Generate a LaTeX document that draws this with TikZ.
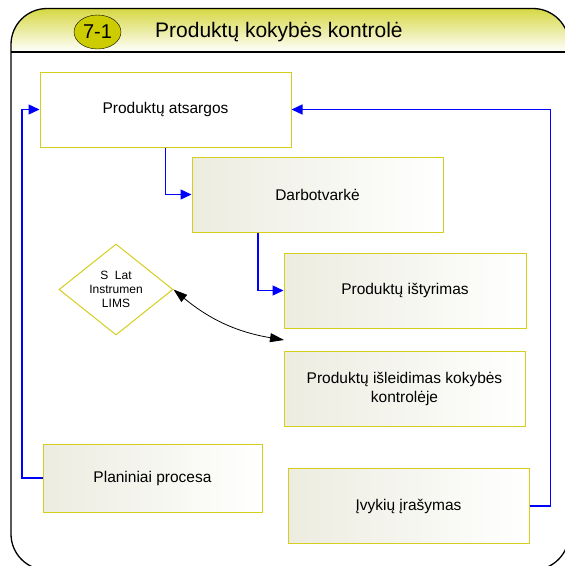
\documentclass[tikz,border=0pt]{standalone}
\usepackage{fontspec}
\setmainfont{Liberation Sans}
\usepackage{tikz}
\usetikzlibrary{shapes.geometric}
\usetikzlibrary{arrows.meta}
\usepackage{xcolor}
\definecolor{boxline}{RGB}{214,206,30}
\definecolor{boxshade}{RGB}{236,236,224}
\definecolor{headtop}{RGB}{206,208,30}
\definecolor{badge}{RGB}{204,204,0}

\begin{document}
\begin{tikzpicture}[x=1pt,y=-1pt,
whites/.style={rectangle,draw=boxline,line width=1pt,fill=white,minimum width=251pt,minimum height=75pt,font=\fontsize{15.5}{19}\selectfont},
shades/.style={rectangle,draw=boxline,line width=1pt,left color=boxshade,right color=white,minimum width=241pt,minimum height=75pt,align=center,font=\fontsize{15.5}{19}\selectfont},
diam/.style={diamond,draw=boxline,line width=1pt,fill=white,minimum width=114pt,minimum height=91pt,inner sep=0pt,align=center,font=\fontsize{12}{14}\selectfont},
flow/.style={draw=blue,line width=1.4pt,-{Triangle[length=11pt,width=10pt]}},
link/.style={draw=black,line width=0.8pt,{Triangle[length=14pt,width=9pt]}-{Triangle[length=14pt,width=9pt]}}]
\useasboundingbox (0,0) rectangle (565,566);

\begin{scope}
\clip [rounded corners=36pt] (11,8.5) rectangle (569,570);
\shade [top color=headtop,bottom color=white] (0,0) rectangle (570,52);
\end{scope}
\draw [line width=1.3pt,rounded corners=36pt] (11,8.5) rectangle (569,570);
\draw [line width=1.3pt] (11,52) -- (569,52);

\node [ellipse,draw,fill=badge,minimum width=47pt,minimum height=34pt,inner sep=0pt,font=\fontsize{20}{24}\selectfont] (badge) at (97.5,32) {7-1};
\node [anchor=base west,inner sep=0pt,font=\fontsize{21}{24}\selectfont] (title) at (155,37) {Produktų kokybės kontrolė};

\node [whites] (box-0) at (165.5,109.5) {Produktų atsargos};
\node [shades,minimum width=251pt] (box-1) at (317.5,194.5) {Darbotvarkė};
\node [shades,minimum width=242pt] (box-2) at (405,290.5) {Produktų ištyrimas};
\node [shades] (box-3) at (404.5,388.5) {Produktų išleidimas kokybės\\kontrolėje};
\node [shades,minimum width=219pt,minimum height=68pt] (box-4) at (152.5,478) {Planiniai procesa};
\node [shades] (box-5) at (408.5,506) {Įvykių įrašymas};
\node [diam] (lims) at (116,289.5) {S\ \ Lat\\Instrumen\\LIMS};
\coordinate (lims-end) at (284,340);

\draw [flow] (box-0.south) |- (box-1.west);
\draw [flow] ([xshift=-59.5pt]box-1.south) |- (box-2.west);
\draw [flow] (box-4.west) -- ++(-20.5,0) |- (box-0.west);
\draw [flow] (box-5.east) -- ++(21,0) |- (box-0.east);
\draw [link] (lims.east) to[bend right=15] (lims-end);
\end{tikzpicture}
\end{document}
